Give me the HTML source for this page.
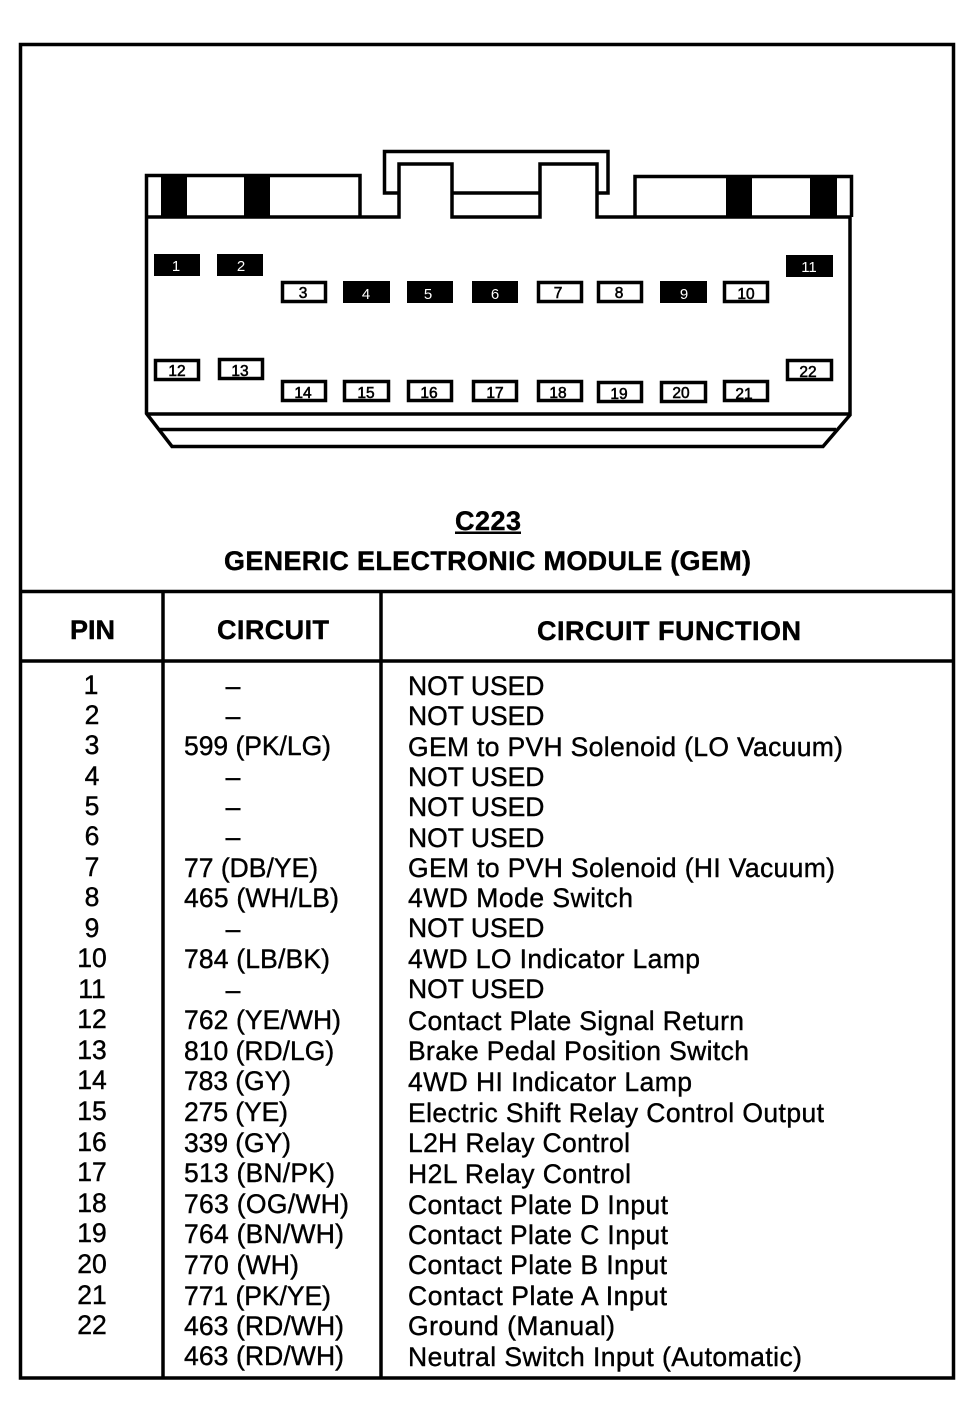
<!DOCTYPE html>
<html><head><meta charset="utf-8"><style>
html,body{margin:0;padding:0;background:#fff}
svg{display:block}
text{font-family:"Liberation Sans",sans-serif;fill:#000}
.r{font-size:26.5px;stroke:#000;stroke-width:.4}
.m{text-anchor:middle}
.h{font-size:27px;font-weight:bold;stroke:#000;stroke-width:.4}
.p{font-size:15.500px;text-anchor:middle;stroke:#000;stroke-width:.55}
.w{font-size:15px;text-anchor:middle;fill:#fff}
</style></head><body>
<svg width="978" height="1408" viewBox="0 0 978 1408" xmlns="http://www.w3.org/2000/svg">
<rect width="978" height="1408" fill="#fff"/>
<g fill="none" stroke="#000" stroke-width="3.500">
<rect x="20.500" y="44.500" width="933" height="1333.500"/>
<path d="M21 591.500H954M21 661H954M163 591V1378M381 591V1378"/>
<path d="M360 217H399V164H452V217H540V164H597V217H635M452 193H540M399 193H384.500V151.500H608V193H597"/>
<path d="M146.500 217V175.500H360V217M635 217V176.500H851.500V217"/>
<path d="M146 217H360M635 217H851"/>
<path d="M146.500 217V413.500L172 446.500H823L850 415V217"/>
<path d="M146 414H850M160 429.500H836"/>
</g>
<g fill="#000">
<rect x="161" y="175" width="26" height="43"/><rect x="244" y="175" width="26" height="43"/>
<rect x="726" y="175" width="26" height="43"/><rect x="810" y="175" width="27" height="43"/>
<rect x="154" y="254" width="46" height="22"/><rect x="217" y="254" width="46" height="22"/>
<rect x="343" y="281" width="47" height="22"/><rect x="407" y="281" width="46" height="22"/>
<rect x="472" y="281" width="46" height="22"/><rect x="660" y="281" width="47" height="22"/>
<rect x="786" y="255" width="47" height="22"/>
</g>
<g fill="#fff" stroke="#000" stroke-width="3.500">
<rect x="282.500" y="282.500" width="43" height="19"/>
<rect x="538.500" y="282.500" width="43" height="19"/>
<rect x="598.500" y="282.500" width="43" height="19"/>
<rect x="724.500" y="282.500" width="43" height="19"/>
<rect x="155.500" y="360.500" width="43" height="19"/>
<rect x="219.500" y="359.500" width="43" height="19"/>
<rect x="282.500" y="381.500" width="43" height="19"/>
<rect x="344.500" y="381.500" width="44" height="19"/>
<rect x="408.500" y="381.500" width="43" height="19"/>
<rect x="473.500" y="381.500" width="43" height="19"/>
<rect x="538.500" y="381.500" width="43" height="19"/>
<rect x="598.500" y="382.500" width="43" height="19"/>
<rect x="661.500" y="382.500" width="44" height="19"/>
<rect x="724.500" y="381.500" width="43" height="19"/>
<rect x="787.500" y="360.500" width="44" height="19"/>
</g>
<g>
<text class="w" x="176" y="271">1</text><text class="w" x="241" y="271">2</text>
<text class="w" x="366" y="299">4</text><text class="w" x="428" y="299">5</text><text class="w" x="495" y="299">6</text>
<text class="w" x="684" y="299">9</text><text class="w" x="809" y="272">11</text>
<text class="p" x="303" y="298">3</text><text class="p" x="558" y="298">7</text><text class="p" x="619" y="298">8</text><text class="p" x="746" y="299">10</text>
<text class="p" x="177" y="376">12</text><text class="p" x="240" y="376">13</text>
<text class="p" x="303" y="398">14</text><text class="p" x="366" y="398">15</text><text class="p" x="429" y="398">16</text>
<text class="p" x="495" y="398">17</text><text class="p" x="558" y="398">18</text><text class="p" x="619" y="399">19</text>
<text class="p" x="681" y="398">20</text><text class="p" x="744" y="399">21</text><text class="p" x="808" y="377">22</text>
</g>
<text class="h" x="455" y="530" textLength="66">C223</text>
<rect x="455" y="531.500" width="66" height="2.500" fill="#000"/>
<text class="h" x="224" y="570" textLength="527">GENERIC ELECTRONIC MODULE (GEM)</text>
<text class="h" x="70" y="639" textLength="45">PIN</text>
<text class="h" x="217" y="639" textLength="112">CIRCUIT</text>
<text class="h" x="537" y="640" textLength="264">CIRCUIT FUNCTION</text>
<g>
<text class="r m" x="91" y="694">1</text><text class="r m" x="92" y="724">2</text><text class="r m" x="92" y="754">3</text>
<text class="r m" x="92" y="785">4</text><text class="r m" x="92" y="815">5</text><text class="r m" x="92" y="845">6</text>
<text class="r m" x="92" y="876">7</text><text class="r m" x="92" y="906">8</text><text class="r m" x="92" y="937">9</text>
<text class="r m" x="92" y="967">10</text><text class="r m" x="92" y="998">11</text><text class="r m" x="92" y="1028">12</text>
<text class="r m" x="92" y="1059">13</text><text class="r m" x="92" y="1089">14</text><text class="r m" x="92" y="1120">15</text>
<text class="r m" x="92" y="1151">16</text><text class="r m" x="92" y="1181">17</text><text class="r m" x="92" y="1212">18</text>
<text class="r m" x="92" y="1242">19</text><text class="r m" x="92" y="1273">20</text><text class="r m" x="92" y="1304">21</text>
<text class="r m" x="92" y="1334">22</text>
<text class="r m" x="233" y="695">–</text><text class="r m" x="233" y="725">–</text>
<text class="r" x="184" y="755" textLength="147">599 (PK/LG)</text>
<text class="r m" x="233" y="786">–</text><text class="r m" x="233" y="816">–</text><text class="r m" x="233" y="846">–</text>
<text class="r" x="184" y="877">77 (DB/YE)</text>
<text class="r" x="184" y="907" textLength="155">465 (WH/LB)</text>
<text class="r m" x="233" y="938">–</text>
<text class="r" x="184" y="968" textLength="146">784 (LB/BK)</text>
<text class="r m" x="233" y="999">–</text>
<text class="r" x="184" y="1029" textLength="157">762 (YE/WH)</text>
<text class="r" x="184" y="1060">810 (RD/LG)</text>
<text class="r" x="184" y="1090" textLength="107">783 (GY)</text>
<text class="r" x="184" y="1121" textLength="104">275 (YE)</text>
<text class="r" x="184" y="1152" textLength="107">339 (GY)</text>
<text class="r" x="184" y="1182" textLength="151">513 (BN/PK)</text>
<text class="r" x="184" y="1213" textLength="165">763 (OG/WH)</text>
<text class="r" x="184" y="1243" textLength="160">764 (BN/WH)</text>
<text class="r" x="184" y="1274" textLength="115">770 (WH)</text>
<text class="r" x="184" y="1305" textLength="147">771 (PK/YE)</text>
<text class="r" x="184" y="1335" textLength="160">463 (RD/WH)</text>
<text class="r" x="184" y="1365" textLength="160">463 (RD/WH)</text>
<text class="r" x="408" y="695">NOT USED</text>
<text class="r" x="408" y="725">NOT USED</text>
<text class="r" x="408" y="756" textLength="435">GEM to PVH Solenoid (LO Vacuum)</text>
<text class="r" x="408" y="786">NOT USED</text>
<text class="r" x="408" y="816">NOT USED</text>
<text class="r" x="408" y="847">NOT USED</text>
<text class="r" x="408" y="877" textLength="427">GEM to PVH Solenoid (HI Vacuum)</text>
<text class="r" x="408" y="907" textLength="225">4WD Mode Switch</text>
<text class="r" x="408" y="937">NOT USED</text>
<text class="r" x="408" y="968" textLength="292">4WD LO Indicator Lamp</text>
<text class="r" x="408" y="998">NOT USED</text>
<text class="r" x="408" y="1030" textLength="336">Contact Plate Signal Return</text>
<text class="r" x="408" y="1060" textLength="341">Brake Pedal Position Switch</text>
<text class="r" x="408" y="1091" textLength="284">4WD HI Indicator Lamp</text>
<text class="r" x="408" y="1122" textLength="416">Electric Shift Relay Control Output</text>
<text class="r" x="408" y="1152" textLength="222">L2H Relay Control</text>
<text class="r" x="408" y="1183" textLength="223">H2L Relay Control</text>
<text class="r" x="408" y="1214" textLength="260">Contact Plate D Input</text>
<text class="r" x="408" y="1244" textLength="260">Contact Plate C Input</text>
<text class="r" x="408" y="1274" textLength="259">Contact Plate B Input</text>
<text class="r" x="408" y="1305" textLength="259">Contact Plate A Input</text>
<text class="r" x="408" y="1335" textLength="207">Ground (Manual)</text>
<text class="r" x="408" y="1366" textLength="394">Neutral Switch Input (Automatic)</text>
</g>
</svg>
</body></html>
